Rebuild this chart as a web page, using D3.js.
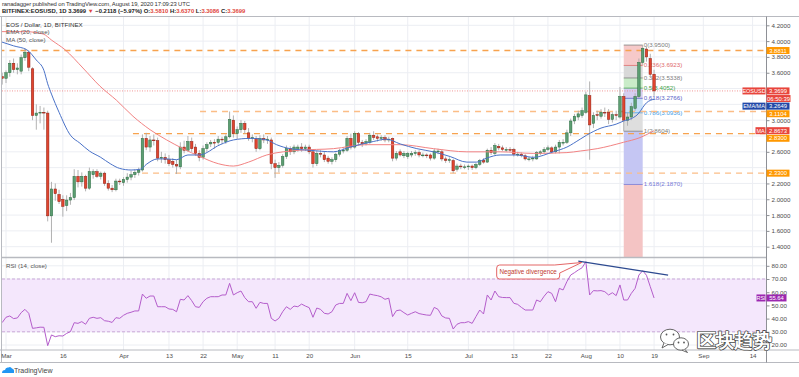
<!DOCTYPE html>
<html>
<head>
<meta charset="utf-8">
<script src="https://cdn.jsdelivr.net/npm/d3@7"></script>
<style>
  body { margin: 0; background: #fff; }
  svg text { font-family: "Liberation Sans", Arial, sans-serif; }
</style>
</head>
<body>
<svg id="chart" width="799" height="377"></svg>
<script>
// ---- data ----
// daily candles from 2020-02-29 to 2020-08-19
const firstDay = -1; // day offset from Mar 1 of the first candle
const opens = [3.55,3.53,3.60,3.72,3.64,3.62,3.79,3.86,3.65,3.06,3.09,3.10,3.09,1.79,2.13,2.06,2.00,1.92,1.99,2.02,
  2.29,2.22,2.29,2.14,2.31,2.35,2.29,2.33,2.20,2.14,2.12,2.23,2.21,2.25,2.28,2.31,2.34,2.37,2.77,2.66,
  2.75,2.74,2.52,2.53,2.50,2.48,2.44,2.41,2.66,2.62,2.73,2.66,2.58,2.53,2.64,2.70,2.72,2.72,2.76,2.73,
  2.79,3.00,2.83,2.88,2.96,2.84,2.77,2.77,2.64,2.77,2.75,2.75,2.45,2.40,2.43,2.54,2.64,2.60,2.63,2.66,
  2.64,2.66,2.60,2.45,2.58,2.56,2.52,2.48,2.50,2.57,2.62,2.62,2.77,2.66,2.83,2.72,2.71,2.72,2.81,2.79,
  2.77,2.78,2.75,2.77,2.52,2.60,2.55,2.54,2.56,2.58,2.59,2.56,2.56,2.56,2.52,2.60,2.60,2.51,2.49,2.49,
  2.38,2.42,2.41,2.41,2.42,2.40,2.44,2.49,2.47,2.62,2.58,2.67,2.65,2.63,2.63,2.63,2.57,2.57,2.55,2.51,
  2.51,2.51,2.58,2.60,2.63,2.65,2.60,2.66,2.72,2.72,2.84,2.99,3.04,3.06,3.10,3.31,2.96,3.07,3.05,3.10,
  3.10,3.01,3.07,3.04,3.30,3.00,3.04,3.15,3.30,3.73,3.90,3.78,3.581];
const highs = [3.60,3.63,3.76,3.78,3.72,3.83,3.91,3.88,3.67,3.20,3.18,3.16,3.12,2.22,2.20,2.12,2.05,2.05,2.08,2.38,
  2.37,2.34,2.31,2.40,2.38,2.38,2.35,2.35,2.24,2.18,2.26,2.26,2.28,2.33,2.36,2.38,2.40,2.82,2.84,2.80,
  2.82,2.78,2.60,2.58,2.56,2.52,2.50,2.72,2.74,2.80,2.78,2.70,2.62,2.68,2.72,2.75,2.76,2.80,2.79,2.82,
  3.11,3.06,2.92,3.00,2.99,2.90,2.82,2.80,2.81,2.82,2.80,2.78,2.50,2.47,2.57,2.68,2.67,2.69,2.69,2.71,
  2.69,2.69,2.62,2.61,2.62,2.60,2.55,2.53,2.59,2.64,2.66,2.80,2.83,2.86,2.85,2.75,2.76,2.84,2.86,2.82,
  2.81,2.81,2.79,2.78,2.61,2.63,2.61,2.60,2.61,2.62,2.62,2.59,2.58,2.58,2.64,2.64,2.63,2.54,2.53,2.51,
  2.45,2.45,2.44,2.44,2.44,2.46,2.51,2.52,2.64,2.66,2.71,2.70,2.68,2.66,2.66,2.65,2.60,2.59,2.57,2.54,
  2.55,2.61,2.62,2.66,2.68,2.67,2.69,2.75,2.76,2.88,3.02,3.08,3.12,3.16,3.36,3.49,3.10,3.12,3.14,3.16,
  3.14,3.10,3.12,3.42,3.34,3.10,3.22,3.34,3.78,3.95,3.93,3.84,3.637];
const lows = [3.45,3.47,3.55,3.60,3.58,3.58,3.75,3.62,3.00,2.88,2.96,2.88,1.72,1.45,1.98,1.94,1.78,1.85,1.93,1.99,
  2.15,2.16,2.10,2.12,2.26,2.27,2.25,2.17,2.11,2.09,2.10,2.18,2.17,2.21,2.24,2.27,2.30,2.35,2.62,2.60,
  2.68,2.48,2.46,2.45,2.42,2.40,2.32,2.38,2.58,2.60,2.60,2.55,2.48,2.50,2.60,2.66,2.64,2.69,2.70,2.70,
  2.77,2.78,2.76,2.84,2.83,2.74,2.72,2.60,2.62,2.71,2.70,2.38,2.27,2.34,2.40,2.51,2.56,2.57,2.60,2.60,
  2.61,2.57,2.40,2.42,2.53,2.47,2.45,2.44,2.47,2.54,2.58,2.60,2.63,2.64,2.68,2.66,2.68,2.70,2.75,2.73,
  2.74,2.72,2.72,2.48,2.49,2.54,2.52,2.51,2.53,2.55,2.53,2.53,2.52,2.49,2.50,2.57,2.48,2.46,2.46,2.33,
  2.35,2.38,2.38,2.37,2.37,2.38,2.42,2.45,2.46,2.56,2.56,2.62,2.61,2.60,2.60,2.54,2.54,2.53,2.49,2.48,
  2.48,2.50,2.56,2.58,2.61,2.58,2.58,2.58,2.68,2.70,2.80,2.95,3.00,3.03,3.08,2.50,2.90,3.00,3.02,3.04,
  2.95,2.97,3.00,3.02,2.8604,2.93,3.00,3.12,3.28,3.70,3.74,3.55,3.3086];
const closes = [3.53,3.60,3.72,3.64,3.66,3.79,3.86,3.67,3.06,3.09,3.10,3.09,1.79,2.13,2.07,1.97,1.91,1.99,2.02,2.29,
  2.22,2.29,2.14,2.35,2.35,2.29,2.33,2.20,2.14,2.12,2.23,2.22,2.25,2.28,2.31,2.34,2.37,2.77,2.66,2.75,
  2.74,2.52,2.53,2.50,2.45,2.44,2.42,2.66,2.62,2.73,2.64,2.58,2.53,2.64,2.69,2.72,2.71,2.76,2.75,2.79,
  3.01,2.83,2.88,2.96,2.88,2.77,2.78,2.64,2.77,2.75,2.76,2.45,2.40,2.43,2.54,2.64,2.60,2.66,2.66,2.64,
  2.66,2.60,2.45,2.58,2.57,2.50,2.48,2.50,2.57,2.62,2.62,2.77,2.66,2.83,2.72,2.70,2.73,2.81,2.78,2.77,
  2.78,2.75,2.76,2.52,2.58,2.56,2.58,2.58,2.58,2.59,2.56,2.56,2.55,2.52,2.61,2.61,2.51,2.49,2.50,2.36,
  2.42,2.41,2.41,2.42,2.40,2.44,2.49,2.47,2.62,2.59,2.68,2.65,2.63,2.63,2.62,2.57,2.57,2.55,2.51,2.51,
  2.52,2.59,2.60,2.63,2.65,2.60,2.66,2.72,2.72,2.84,2.99,3.05,3.08,3.12,3.32,2.94,3.06,3.06,3.10,3.09,
  3.01,3.07,3.06,3.30,3.00,3.04,3.17,3.30,3.73,3.91,3.80,3.58,3.3699];
const rsiValues = [37,41,42,40,40.5,44.5,47,44,32.6,33,33.5,33.4,19.5,27.6,26.3,27,26.8,28.8,30.1,36.9,
  36.4,37.7,35.7,40.2,41,40.2,40.7,38.4,38,37.1,40.7,40.2,42.5,44,44.8,45.8,45.8,58.6,55.4,57.1,
  57.1,49,49,49,47.3,47,45.2,54.6,54.1,57.4,53.6,49,48.5,52.8,55.4,56.6,56.6,56.6,57.9,57.9,
  66.7,57.9,59.6,60.9,55.9,52.8,52.8,47.8,52.3,51.5,51.5,40.2,38.2,40.2,45.2,49,47,49.5,49,51,
  49.5,48.3,41,48,47,44,43.5,45.2,50.3,51.5,51.5,59.1,53.6,59.6,52.3,52,52.8,58.6,57.9,57.4,
  56.5,54.6,55.5,41.5,46,46.5,44.5,42.7,44,45.2,43.8,43.2,42.7,42.5,48.5,47,42,40.5,40.2,32.1,
  35.7,36.9,36.9,37.7,36.4,41.5,46.5,43.5,57.9,54.1,60.9,56.6,56,55.9,55.9,51.6,50.8,48.5,46.5,46.5,
  46.5,54.1,52.8,57,60.4,59.1,52.8,62.9,61.7,68,73,74.8,76.8,78.5,83.1,57.9,61.2,61,61.2,60.4,
  57.9,59.6,57.4,65.5,54.1,54.1,59.1,62.9,73,76.3,72.8,64.2,55.64];

// EMA (20) and MA (50): [day offset from Mar 1, value]
const emaPoints = [[-1.2,3.99],[2,3.94],[5.5,3.89],[8,3.76],[10,3.63],[11,3.46],[12,3.33],[14,3.10],[17,2.81],
  [19.5,2.71],[22,2.61],[25,2.53],[27.5,2.45],[30,2.39],[33,2.37],[35.5,2.38],[37,2.44],[40,2.51],[42.5,2.51],
  [45,2.50],[48,2.56],[51,2.56],[56.5,2.69],[60,2.75],[64.4,2.77],[68.8,2.75],[71.4,2.69],[75,2.64],[80,2.62],
  [86.4,2.60],[90.8,2.66],[96.9,2.73],[100.4,2.76],[104,2.70],[108.4,2.64],[112.8,2.60],[117.2,2.54],[121.6,2.47],
  [124.2,2.47],[126.8,2.52],[130.4,2.56],[134.7,2.56],[139.1,2.53],[144.4,2.60],[148,2.66],[151.5,2.76],[153.2,2.81],
  [157,2.90],[161,2.95],[163,2.99],[165,3.02],[167,3.09],[168,3.16],[169,3.22],[170,3.25],[171,3.265]];
const maPoints = [[-1.2,4.12],[5,4.12],[9.8,4.09],[12.1,4.01],[15.6,3.89],[20.3,3.66],[24.8,3.43],[29.2,3.25],
  [33.5,3.05],[38,2.88],[42.4,2.75],[46.7,2.64],[51.2,2.54],[56,2.45],[60,2.42],[64,2.47],[68.8,2.56],[77.5,2.62],
  [86.4,2.64],[95,2.69],[104,2.69],[112.8,2.64],[121.6,2.60],[130.4,2.60],[139.1,2.58],[148,2.59],[151.5,2.61],
  [156,2.64],[162.9,2.72],[167.3,2.78],[171,2.867]];

// horizontal levels: price, first day offset, strong or light dash
const levelPrices = [3.8811, 3.1104, 2.83, 2.33];
const levelStarts = [-2, 51.2, 33.5, 35.9];
const levelStrong = [true, false, true, false];

// fib retracement (low on day 163, high on day 168)
const fibDays = [163, 168];
const fibLevels = [0, 0.236, 0.382, 0.5, 0.618, 0.786, 1, 1.618, 2.618];
const fibPrices = [3.9500, 3.6923, 3.5338, 3.4052, 3.2766, 3.0936, 2.8604, 2.1870, 1.0974];

const timeTickDays = [0,15,31,43,52,61,71,80,92,106,122,134,143,153,162,171,184,197];
const priceTicks = d3.range(1.4, 4.21, 0.2);
const rsiTicks = [20, 30, 40, 50, 60, 70, 80];
const divergence = [[151, 83.6], [174.7, 73.0]];
const lastRsi = 55.64;

// ---- layout ----
const paneL = 2, paneR = 766, mainT = 17, mainB = 257, rsiT = 258, rsiB = 350, axisB = 362.5;
const boxH = 7;
const DAY = 864e5;
const mar1 = Date.UTC(2020, 2, 1);
const dayDate = d => new Date(mar1 + d * DAY);

const x = d3.scaleUtc().domain([dayDate(0), dayDate(197)]).range([6, 752.6]);
const y = d3.scaleLinear().domain([1.4, 4.2]).range([246.7, 25.3]);
const yr = d3.scaleLinear().domain([20, 80]).range([345, 265.8]);

const colors = {
  grid: '#eceef3', border: '#b8bac0', axisText: '#4d4d4d',
  up: '#5c9e72', upEdge: '#2a6b40', down: '#e0452f', downEdge: '#8e2015', wick: '#a9a9a9',
  ema: '#4a72c8', ma: '#f28383', orange: '#ff9800', red: '#e8453c', blue: '#2148a8', rsi: '#b45dcb'
};

const svg = d3.select('#chart');
const defs = svg.append('defs');
defs.append('clipPath').attr('id', 'mainClip').append('rect')
  .attr('x', paneL).attr('y', mainT).attr('width', paneR - paneL).attr('height', mainB - mainT);
defs.append('clipPath').attr('id', 'rsiClip').append('rect')
  .attr('x', paneL).attr('y', rsiT).attr('width', paneR - paneL).attr('height', rsiB - rsiT);

svg.append('rect').attr('width', 799).attr('height', 377).attr('fill', '#fff');

// grid
const grid = svg.append('g');
grid.selectAll('.vg').data(timeTickDays).enter().append('line')
  .attr('x1', d => x(dayDate(d))).attr('x2', d => x(dayDate(d)))
  .attr('y1', mainT).attr('y2', rsiB).attr('stroke', colors.grid);
grid.selectAll('.hg').data(priceTicks).enter().append('line')
  .attr('x1', paneL).attr('x2', paneR).attr('y1', d => y(d)).attr('y2', d => y(d)).attr('stroke', colors.grid);
grid.selectAll('.rg').data(rsiTicks).enter().append('line')
  .attr('x1', paneL).attr('x2', paneR).attr('y1', d => yr(d)).attr('y2', d => yr(d)).attr('stroke', colors.grid);

// rsi band
svg.append('rect').attr('x', paneL).attr('width', paneR - paneL)
  .attr('y', yr(70)).attr('height', yr(30) - yr(70)).attr('fill', '#f4e7fc');
[70, 30].forEach(v => {
  svg.append('line').attr('x1', paneL).attr('x2', paneR).attr('y1', yr(v)).attr('y2', yr(v))
    .attr('stroke', '#c9a8d8').attr('stroke-dasharray', '3,2');
});

// fib retracement
const main = svg.append('g').attr('clip-path', 'url(#mainClip)');
const zoneColors = ['#f6c9c9', '#d8d8d8', '#c9ecc9', '#d6cef1', '#cbe1f7', '#dedede', '#c5c6f3', '#f4c4c4'];
const levelColors = ['#7d7d7d', '#e06b6b', '#7d7d7d', '#3fa34a', '#5b5fc7', '#3b9de8', '#7d7d7d', '#7579d6', '#e06b6b'];
const fx0 = x(dayDate(fibDays[0])), fx1 = x(dayDate(fibDays[1]));
const fib = main.append('g');
fib.selectAll('.zone').data(d3.range(fibLevels.length - 1)).enter().append('rect')
  .attr('x', fx0).attr('width', fx1 - fx0)
  .attr('y', i => y(fibPrices[i])).attr('height', i => y(fibPrices[i + 1]) - y(fibPrices[i]))
  .attr('fill', i => zoneColors[i]);
fib.selectAll('.lvl').data(fibLevels).enter().append('line')
  .attr('x1', fx0).attr('x2', fx1).attr('y1', (d, i) => y(fibPrices[i])).attr('y2', (d, i) => y(fibPrices[i]))
  .attr('stroke', (d, i) => levelColors[i]).attr('stroke-width', 0.8);
fib.selectAll('.lbl').data(fibLevels.slice(0, 8)).enter().append('text')
  .attr('x', fx1 + 1).attr('y', (d, i) => y(fibPrices[i]) + 2)
  .attr('font-size', 6.2).attr('fill', (d, i) => levelColors[i])
  .text((d, i) => `${d}(${fibPrices[i].toFixed(4)})`);

// horizontal levels
levelPrices.forEach((p, i) => {
  main.append('line').attr('x1', x(dayDate(levelStarts[i]))).attr('x2', paneR)
    .attr('y1', y(p)).attr('y2', y(p))
    .attr('stroke', levelStrong[i] ? '#f7a24e' : '#fbbd86')
    .attr('stroke-width', 1.4).attr('stroke-dasharray', '6,5');
});

// last price line
main.append('line').attr('x1', paneL).attr('x2', paneR)
  .attr('y1', y(closes[closes.length - 1])).attr('y2', y(closes[closes.length - 1]))
  .attr('stroke', '#ef7d7d').attr('stroke-width', 0.8).attr('stroke-dasharray', '1,1.5');

// candles
const candles = closes.map((c, i) => ({ date: dayDate(firstDay + i), o: opens[i], h: highs[i], l: lows[i], c }));
const bw = 2.5;
const cg = main.append('g');
cg.selectAll('.wick').data(candles).enter().append('line')
  .attr('x1', d => x(d.date)).attr('x2', d => x(d.date))
  .attr('y1', d => y(d.h)).attr('y2', d => y(d.l))
  .attr('stroke', colors.wick).attr('stroke-width', 0.9);
cg.selectAll('.body').data(candles).enter().append('rect')
  .attr('x', d => x(d.date) - bw / 2).attr('width', bw)
  .attr('y', d => y(Math.max(d.o, d.c)))
  .attr('height', d => Math.max(0.8, Math.abs(y(d.o) - y(d.c))))
  .attr('fill', d => d.c >= d.o ? colors.up : colors.down)
  .attr('stroke', d => d.c >= d.o ? colors.upEdge : colors.downEdge)
  .attr('stroke-width', 0.5);

// moving averages
const avgLine = d3.line().x(d => x(dayDate(d[0]))).y(d => y(d[1])).curve(d3.curveMonotoneX);
main.append('path').attr('d', avgLine(maPoints)).attr('fill', 'none').attr('stroke', colors.ma).attr('stroke-width', 1);
main.append('path').attr('d', avgLine(emaPoints)).attr('fill', 'none').attr('stroke', colors.ema).attr('stroke-width', 1);

// RSI
const rsiG = svg.append('g').attr('clip-path', 'url(#rsiClip)');
const rsiLine = d3.line().x((d, i) => x(dayDate(firstDay + i))).y(d => yr(d));
rsiG.append('path').attr('d', rsiLine(rsiValues)).attr('fill', 'none').attr('stroke', colors.rsi).attr('stroke-width', 1);
rsiG.append('line')
  .attr('x1', x(dayDate(divergence[0][0]))).attr('y1', yr(divergence[0][1]))
  .attr('x2', x(dayDate(divergence[1][0]))).attr('y2', yr(divergence[1][1]))
  .attr('stroke', '#2d4a90').attr('stroke-width', 1.2);

// callout
const tipX = x(dayDate(151.9)), tipY = yr(82.5);
const bx0 = tipX - 85, bx1 = tipX - 22, by0 = 265, by1 = 279;
rsiG.append('path')
  .attr('d', `M${bx0 + 3},${by0} L${bx1 - 5},${by0} L${tipX},${tipY} L${bx1},${by0 + 8} L${bx1},${by1 - 3}
    Q${bx1},${by1} ${bx1 - 3},${by1} L${bx0 + 3},${by1} Q${bx0},${by1} ${bx0},${by1 - 3}
    L${bx0},${by0 + 3} Q${bx0},${by0} ${bx0 + 3},${by0} Z`)
  .attr('fill', '#fff').attr('stroke', '#e05555').attr('stroke-width', 0.9);
svg.append('text').attr('x', (bx0 + bx1) / 2).attr('y', by0 + 9.3).attr('text-anchor', 'middle')
  .attr('font-size', 6.3).attr('fill', '#c0392b').text('Negative divergence');

// pane borders
const borders = svg.append('g').attr('stroke', colors.border).attr('fill', 'none');
borders.append('line').attr('x1', 0).attr('x2', 799).attr('y1', 16.5).attr('y2', 16.5);
borders.append('line').attr('x1', paneL).attr('x2', paneR).attr('y1', 257.5).attr('y2', 257.5).attr('stroke-width', 1.5);
borders.append('line').attr('x1', 0).attr('x2', 799).attr('y1', rsiB).attr('y2', rsiB);
borders.append('line').attr('x1', 0).attr('x2', 799).attr('y1', axisB).attr('y2', axisB);
borders.append('line').attr('x1', 1.5).attr('x2', 1.5).attr('y1', 16.5).attr('y2', axisB);
borders.append('line').attr('x1', paneR + 0.5).attr('x2', paneR + 0.5).attr('y1', 16.5).attr('y2', axisB).attr('stroke', '#8e9096');

// axis value labels (pushed apart like the price scale does)
const axisLabels = [
  { price: 3.8811, text: '3.8811', color: colors.orange },
  { price: 3.3699, text: '3.3699', color: colors.red, name: 'EOSUSD', nameW: 23 },
  { price: 3.3698, text: '06:50:39', color: colors.red, wide: true },
  { price: 3.2649, text: '3.2649', color: colors.blue, name: 'EMA/MA', nameW: 23 },
  { price: 3.1104, text: '3.1104', color: colors.orange },
  { price: 2.8673, text: '2.8673', color: colors.red, name: 'MA', nameW: 10 },
  { price: 2.83, text: '2.8300', color: colors.orange },
  { price: 2.33, text: '2.3300', color: colors.orange }
];
let prevY = -100;
axisLabels.sort((a, b) => b.price - a.price).forEach(l => {
  l.cy = Math.max(y(l.price), prevY + 7.6);
  prevY = l.cy;
});

// axes: drop the tick values hidden under a label box
const freeTicks = (ticks, sc, busy) => ticks.filter(t => busy.every(b => Math.abs(sc(t) - b) > 5.6));
const priceAxis = svg.append('g').attr('transform', `translate(${paneR + 0.5},0)`)
  .call(d3.axisRight(y).tickValues(freeTicks(priceTicks, y, axisLabels.map(l => l.cy)))
    .tickFormat(d3.format('.4f')).tickSize(3).tickPadding(2));
const rsiAxis = svg.append('g').attr('transform', `translate(${paneR + 0.5},0)`)
  .call(d3.axisRight(yr).tickValues(freeTicks(rsiTicks, yr, [yr(lastRsi)]))
    .tickFormat(d3.format('.2f')).tickSize(3).tickPadding(2));
const monthFmt = d3.utcFormat('%b'), dayFmt = d3.utcFormat('%-d');
const timeAxis = svg.append('g').attr('transform', `translate(0,${rsiB})`)
  .call(d3.axisBottom(x).tickValues(timeTickDays.map(dayDate))
    .tickFormat(d => d.getUTCDate() === 1 ? monthFmt(d) : dayFmt(d)).tickSize(0).tickPadding(3.5));
[priceAxis, rsiAxis, timeAxis].forEach(a => {
  a.select('.domain').remove();
  a.selectAll('line').attr('stroke', '#8e9096');
  a.selectAll('text').attr('font-size', 6.2).attr('fill', colors.axisText).attr('font-family', '"Liberation Sans", Arial, sans-serif');
});

const labG = svg.append('g');
axisLabels.forEach(l => {
  const w = l.wide ? 24 : 23;
  labG.append('rect').attr('x', paneR + 0.5).attr('y', l.cy - boxH / 2).attr('width', w).attr('height', boxH).attr('fill', l.color);
  labG.append('text').attr('x', paneR + 0.5 + w / 2).attr('y', l.cy + 2.1).attr('text-anchor', 'middle')
    .attr('font-size', 5.9).attr('fill', '#fff').text(l.text);
  if (l.name) {
    labG.append('rect').attr('x', paneR - 0.5 - l.nameW).attr('y', l.cy - boxH / 2).attr('width', l.nameW).attr('height', boxH).attr('fill', l.color);
    labG.append('text').attr('x', paneR - 0.5 - l.nameW / 2).attr('y', l.cy + 2.1).attr('text-anchor', 'middle')
      .attr('font-size', 5.5).attr('fill', '#fff').text(l.name);
  }
});
labG.append('rect').attr('x', paneR - 9.5).attr('y', yr(lastRsi) - boxH / 2).attr('width', 9).attr('height', boxH).attr('fill', '#9c27b0');
labG.append('text').attr('x', paneR - 5).attr('y', yr(lastRsi) + 2.1).attr('text-anchor', 'middle')
  .attr('font-size', 5.5).attr('fill', '#fff').text('RSI');
labG.append('rect').attr('x', paneR + 0.5).attr('y', yr(lastRsi) - boxH / 2).attr('width', 20).attr('height', boxH).attr('fill', '#9c27b0');
labG.append('text').attr('x', paneR + 10.5).attr('y', yr(lastRsi) + 2.1).attr('text-anchor', 'middle')
  .attr('font-size', 5.9).attr('fill', '#fff').text(lastRsi.toFixed(2));

// header
svg.append('text').attr('x', 2).attr('y', 6).attr('font-size', 5.9).attr('fill', '#333')
  .attr('textLength', 188).text('ranadagger published on TradingView.com, August 19, 2020 17:09:23 UTC');
const h2 = svg.append('text').attr('x', 2).attr('y', 12.5).attr('font-size', 5.9).attr('font-weight', 'bold').attr('fill', '#222');
const redC = '#e0463c';
[['BITFINEX:EOSUSD, 1D ', null], ['3.3699 ', null], ['\u25BC ', redC], ['\u22120.2118 (\u22125.97%) ', null],
 ['O:', null], ['3.5810 ', redC], ['H:', null], ['3.6370 ', redC], ['L:', null], ['3.3086 ', redC], ['C:', null], ['3.3699', redC]]
  .forEach(([t, c]) => h2.append('tspan').attr('fill', c || '#222').text(t));

// legends
svg.append('text').attr('x', 6).attr('y', 26.5).attr('font-size', 6.2).attr('fill', '#333').text('EOS / Dollar, 1D, BITFINEX');
svg.append('text').attr('x', 6).attr('y', 34.3).attr('font-size', 6.2).attr('fill', '#555').text('EMA (20, close)');
svg.append('text').attr('x', 6).attr('y', 42).attr('font-size', 6.2).attr('fill', '#555').text('MA (50, close)');
svg.append('text').attr('x', 6).attr('y', 267.5).attr('font-size', 6.2).attr('fill', '#555').text('RSI (14, close)');

// footer logo
const logo = svg.append('g').attr('transform', 'translate(2,366)');
logo.append('path').attr('d', 'M0,7 Q0,4 3,4 Q3.5,1 6.5,1.5 Q8.5,0 10,2.5 Q12.5,3 12,6 L12,7 Z').attr('fill', '#2196f3');
svg.append('text').attr('x', 14).attr('y', 372.5).attr('font-size', 7).attr('fill', '#444').text('TradingView');

// watermark
const wm = svg.append('g').attr('fill', '#fff').attr('stroke', '#555').attr('stroke-width', 0.9);
wm.append('ellipse').attr('cx', 670).attr('cy', 337).attr('rx', 9.5).attr('ry', 7.8);
wm.append('path').attr('d', 'M664,343 L662,348 L668,344.5').attr('stroke-linejoin', 'round');
wm.append('ellipse').attr('cx', 681).attr('cy', 344).attr('rx', 7.5).attr('ry', 6.2);
wm.append('path').attr('d', 'M685,349.5 L687.5,352.5 L682,350.2');
[[666.5, 334.5], [673.5, 334.5], [678.5, 342.5], [684, 342.5]].forEach(([cx, cy]) =>
  wm.append('circle').attr('cx', cx).attr('cy', cy).attr('r', 0.9).attr('fill', '#555').attr('stroke', 'none'));
svg.append('text').attr('x', 697).attr('y', 346.5).attr('font-size', 19)
  .attr('font-family', '"Noto Sans CJK SC", sans-serif').attr('font-weight', 'bold')
  .attr('textLength', 75).attr('fill', '#fff').attr('stroke', '#4a4a4a').attr('stroke-width', 1.6)
  .attr('paint-order', 'stroke').attr('stroke-linejoin', 'round')
  .text('区块趋势');
</script>
</body>
</html>
